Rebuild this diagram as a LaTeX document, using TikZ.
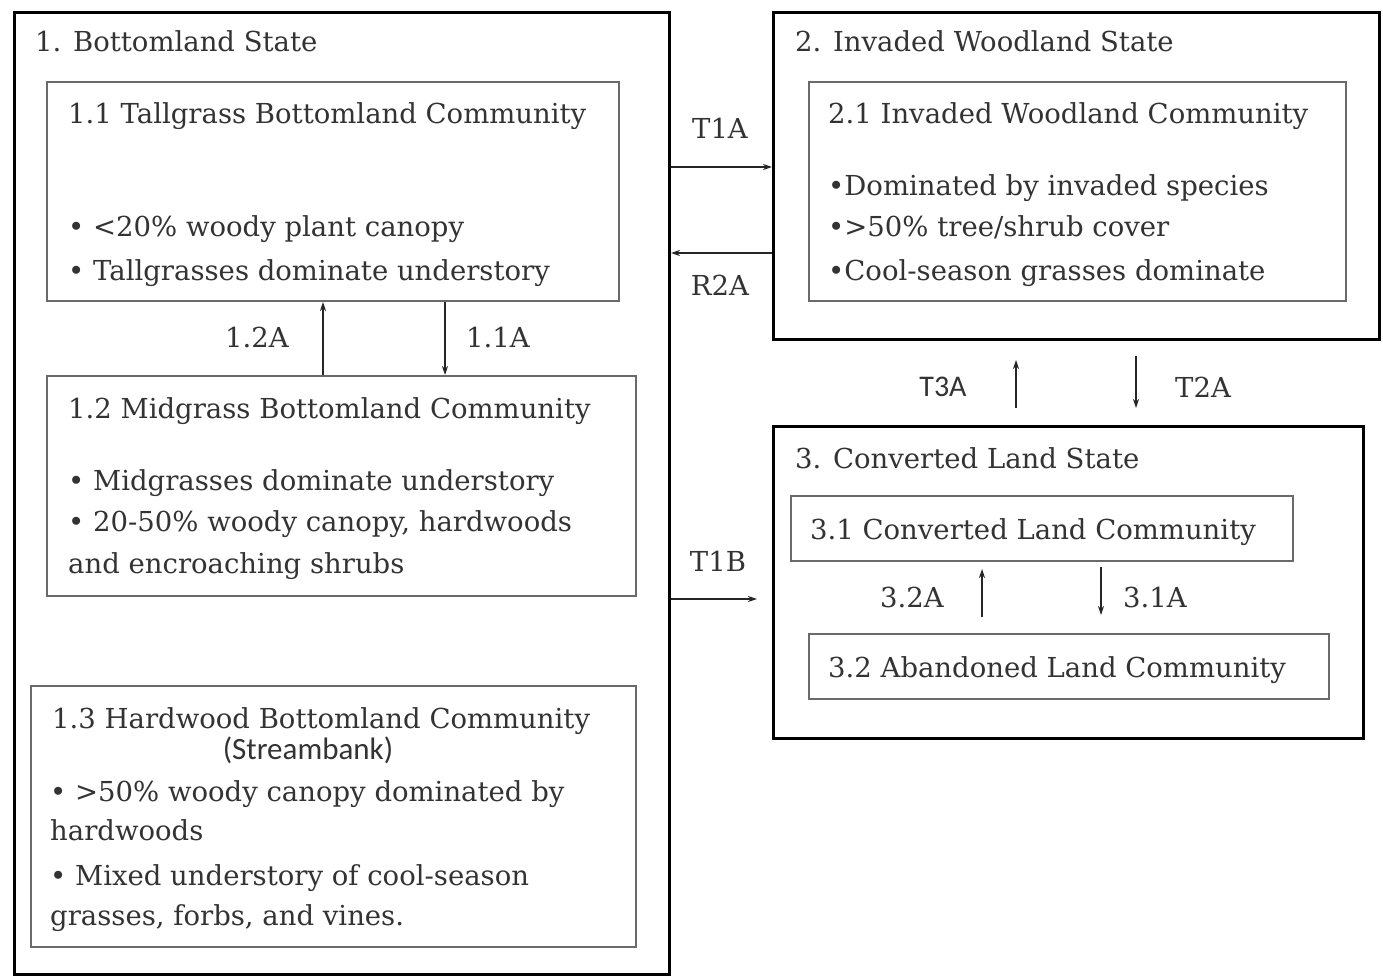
\documentclass[tikz,border=0pt]{standalone}
\usepackage{fontspec}
\setmainfont{DejaVu Serif}
\newfontfamily\sansf{Carlito}
\usetikzlibrary{arrows.meta}
\definecolor{txtc}{HTML}{333333}
\definecolor{inner}{HTML}{6A6A6A}
\newcommand{\mainsize}{\fontsize{27.5}{32}\selectfont}
\begin{document}
\begin{tikzpicture}[x=1pt,y=-1pt,
  statebox/.style={draw=black,line width=3pt,inner sep=0pt,anchor=north west},
  commbox/.style={draw=inner,line width=2pt,inner sep=0pt,anchor=north west},
  txt/.style={anchor=base west,inner sep=0pt,text=txtc,font=\mainsize},
  lbl/.style={anchor=center,inner sep=0pt,text=txtc,font=\mainsize},
  arr/.style={-{Stealth[length=9pt,width=6pt]},line width=1.6pt,draw=black!85},
]
\useasboundingbox[fill=white] (0,0) rectangle (1383,976);
% state boxes
\node[statebox,minimum width=655pt,minimum height=962pt] (s1) at (13,11) {};
\node[statebox,minimum width=606pt,minimum height=327pt] (s2) at (772,11) {};
\node[statebox,minimum width=590pt,minimum height=312pt] (s3) at (772,425) {};
% community boxes
\node[commbox,minimum width=572pt,minimum height=219pt] (b11) at (46,81) {};
\node[commbox,minimum width=589pt,minimum height=220pt] (b12) at (46,375) {};
\node[commbox,minimum width=605pt,minimum height=261pt] (b13) at (30,685) {};
\node[commbox,minimum width=537pt,minimum height=219pt] (b21) at (808,81) {};
\node[commbox,minimum width=502pt,minimum height=65pt] (b31) at (790,495) {};
\node[commbox,minimum width=520pt,minimum height=65pt] (b32) at (808,633) {};
% texts
\node[txt] (t1) at (35,52) {1. Bottomland State};
\node[txt] (t11) at (68,124) {1.1 Tallgrass Bottomland Community};
\node[txt] (t11a) at (68,237) {\textbullet\ <20\% woody plant canopy};
\node[txt] (t11b) at (68,280) {\textbullet\ Tallgrasses dominate understory};
\node[txt] (t12) at (68,418) {1.2 Midgrass Bottomland Community};
\node[txt] (t12a) at (68,490) {\textbullet\ Midgrasses dominate understory};
\node[txt] (t12b) at (68,531) {\textbullet\ 20-50\% woody canopy, hardwoods};
\node[txt] (t12c) at (68,573) {and encroaching shrubs};
\node[txt] (t13) at (52,728) {1.3 Hardwood Bottomland Community};
\node[lbl,font=\sansf\fontsize{31}{34}\selectfont] (t13s) at (308,750) {(Streambank)};
\node[txt] (t13a) at (50,801) {\textbullet\ >50\% woody canopy dominated by};
\node[txt] (t13b) at (50,840) {hardwoods};
\node[txt] (t13c) at (50,885) {\textbullet\ Mixed understory of cool-season};
\node[txt] (t13d) at (50,925) {grasses, forbs, and vines.};
\node[txt] (t2) at (795,52) {2. Invaded Woodland State};
\node[txt] (t21) at (828,124) {2.1 Invaded Woodland Community};
\node[txt] (t21a) at (828,196) {\textbullet Dominated by invaded species};
\node[txt] (t21b) at (828,237) {\textbullet>50\% tree/shrub cover};
\node[txt] (t21c) at (828,280) {\textbullet Cool-season grasses dominate};
\node[txt] (t3) at (795,468) {3. Converted Land State};
\node[txt] (t31) at (810,539) {3.1 Converted Land Community};
\node[txt] (t32) at (828,677) {3.2 Abandoned Land Community};
% transition labels
\node[lbl] (lT1A) at (720,128) {T1A};
\node[lbl] (lR2A) at (720,285) {R2A};
\node[lbl] (lT1B) at (718,561) {T1B};
\node[lbl] (l12A) at (257,337) {1.2A};
\node[lbl] (l11A) at (498,337) {1.1A};
\node[lbl,font=\sansf\fontsize{30}{34}\selectfont] (lT3A) at (943,387) {T3A};
\node[lbl] (lT2A) at (1203,387) {T2A};
\node[lbl] (l32A) at (912,597) {3.2A};
\node[lbl] (l31A) at (1155,597) {3.1A};
% helper coordinates
\coordinate (yT1A) at (0,167);
\coordinate (yR2A) at (0,253);
\coordinate (yT1B) at (0,599);
\coordinate (x12A) at (323,0);
\coordinate (x11A) at (445,0);
\coordinate (aT3A) at (1016,408);
\coordinate (bT3A) at (1016,360);
\coordinate (aT2A) at (1136,356);
\coordinate (bT2A) at (1136,408);
\coordinate (x32A) at (982,0);
\coordinate (x31A) at (1101,0);
\coordinate (eT1B) at (757,599);
% connectors
\draw[arr] (s1.east |- yT1A) -- (s2.west |- yT1A);
\draw[arr] (s2.west |- yR2A) -- (s1.east |- yR2A);
\draw[arr] (s1.east |- yT1B) -- (eT1B);
\draw[arr] (b12.north -| x12A) -- (b11.south -| x12A);
\draw[arr] (b11.south -| x11A) -- (b12.north -| x11A);
\draw[arr] (aT3A) -- (bT3A);
\draw[arr] (aT2A) -- (bT2A);
\draw[arr] ([yshift=16pt]b32.north -| x32A) -- ([yshift=-7pt]b31.south -| x32A);
\draw[arr] ([yshift=-5pt]b31.south -| x31A) -- ([yshift=18pt]b32.north -| x31A);
\end{tikzpicture}
\end{document}
